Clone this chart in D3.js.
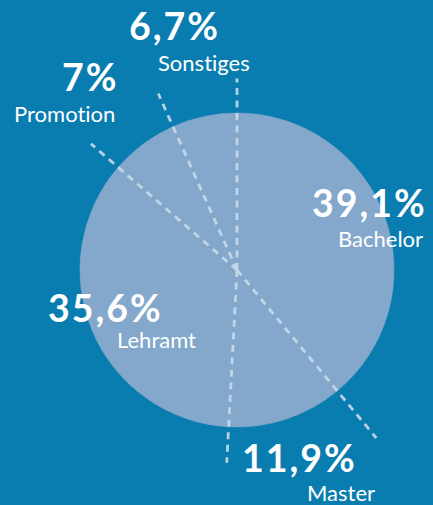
<!DOCTYPE html>
<html><head><meta charset="utf-8">
<script src="https://cdn.jsdelivr.net/npm/d3@7"></script>
<style>
html,body{margin:0;padding:0;background:#097cb0;}
svg{display:block;}
text{font-variant-ligatures:none;font-feature-settings:"liga" 0;}
</style></head>
<body>
<svg id="chart" width="433" height="505"></svg>
<script>
// Data
const categories = ["Bachelor", "Master", "Lehramt", "Promotion", "Sonstiges"];
const values = [39.1, 11.9, 35.6, 7, 6.7];

// Layout (label anchor: left x, baseline y of the percentage and of the name)
const labelLayout = [
  {px: 312, py: 217, nx: 338, ny: 247},
  {px: 242, py: 472, nx: 307, ny: 501},
  {px: 48,  py: 322, nx: 117, ny: 348},
  {px: 62,  py: 91,  nx: 14,  ny: 122},
  {px: 129, py: 40,  nx: 158, ny: 71}
];
// length of the dashed boundary line at each slice start, relative to radius
const boundaryLen = [1.22, 1.39, 1.23, 1.23, 1.23];

const W = 433, H = 505;
const cx = 237, cy = 270, R = 157;
const bg = "#097cb0", pieColor = "#83a8cb", dashColor = "#c6d9e8";

const svg = d3.select("#chart");
svg.append("rect").attr("width", W).attr("height", H).attr("fill", bg);

const pie = d3.pie().sort(null).value(d => d)(values);
const arc = d3.arc().innerRadius(0).outerRadius(R);

const g = svg.append("g").attr("transform", `translate(${cx},${cy})`);
g.selectAll("path.slice").data(pie).join("path")
  .attr("class", "slice")
  .attr("d", arc)
  .attr("fill", pieColor)
  .attr("stroke", pieColor)
  .attr("stroke-width", 0.6);

// dashed boundary lines
g.selectAll("line.bound").data(pie).join("line")
  .attr("class", "bound")
  .attr("x1", 0).attr("y1", 0)
  .attr("x2", (d, i) => Math.sin(d.startAngle) * R * boundaryLen[i])
  .attr("y2", (d, i) => -Math.cos(d.startAngle) * R * boundaryLen[i])
  .attr("stroke", dashColor)
  .attr("stroke-opacity", 0.92)
  .attr("stroke-width", 2.8)
  .attr("stroke-dasharray", "7,5.5");

const fmt = v => String(v).replace(".", ",") + "%";

const labels = svg.append("g").attr("fill", "#ffffff");
labels.selectAll("text.pct").data(pie).join("text")
  .attr("class", "pct")
  .attr("x", (d, i) => labelLayout[i].px)
  .attr("y", (d, i) => labelLayout[i].py)
  .attr("font-family", "Lato, 'Noto Sans', sans-serif")
  .attr("font-weight", 700)
  .attr("font-size", 37.5)
  .attr("letter-spacing", 2)
  .text(d => fmt(d.data));

labels.selectAll("text.name").data(pie).join("text")
  .attr("class", "name")
  .attr("x", (d, i) => labelLayout[i].nx)
  .attr("y", (d, i) => labelLayout[i].ny)
  .attr("font-family", "Lato, 'Noto Sans', sans-serif")
  .attr("font-weight", 400)
  .attr("font-size", 22)
  .text((d, i) => categories[i]);
</script>
</body></html>
